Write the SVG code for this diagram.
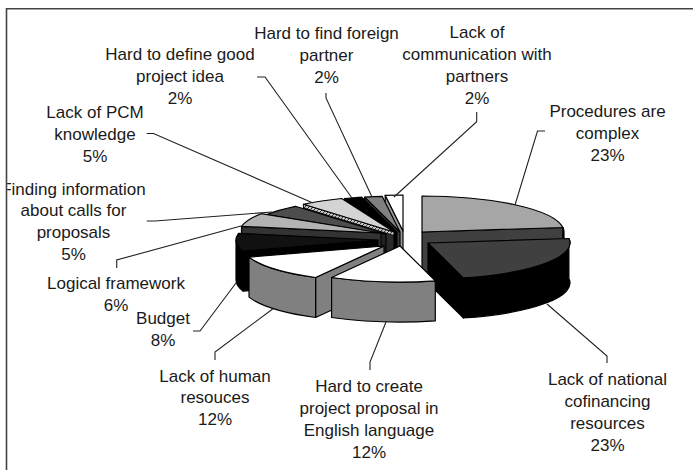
<svg xmlns="http://www.w3.org/2000/svg" width="693" height="470" viewBox="0 0 693 470">
<style>
.f{stroke:#000;stroke-width:1.2;stroke-linejoin:round}
.ld{fill:none;stroke:#222;stroke-width:1.1}
text{font-family:"Liberation Sans",Arial,sans-serif;font-size:17px;fill:#1a1a1a;text-anchor:middle}
</style>
<defs>
<clipPath id="clip"><rect x="7.2" y="9.6" width="686" height="461"/></clipPath>
<pattern id="hatch" width="4" height="4" patternUnits="userSpaceOnUse"><rect width="4" height="4" fill="#c8c8c8"/><path d="M0,4 L4,0" stroke="#333" stroke-width="1"/></pattern>
</defs>
<rect width="693" height="470" fill="#fff"/>
<path d="M6.5,470 L6.5,8.7 L693,8.7" fill="none" stroke="#444" stroke-width="1.6"/>
<g clip-path="url(#clip)">
<g id="slice-communication">
<path class="f" fill="#9a9a9a" d="M403,231 L385.2,195.3 L385.2,235.3 L403,271 Z"/>
<path class="f" fill="#fff" d="M403,231 L385.2,195.3 A142 36 0 0 1 403,195 Z"/>
</g>
<g id="slice-foreign">
<path class="f" fill="#404040" d="M400,232 L364.7,197.1 L364.7,237.1 L400,272 Z"/>
<path class="f" fill="#808080" d="M400,232 L364.7,197.1 A142 36 0 0 1 382.2,196.3 Z"/>
</g>
<g id="slice-define">
<path class="f" fill="#000" d="M397,232 L344.7,198.5 L344.7,238.5 L397,272 Z"/>
<path class="f" fill="#000" d="M397,232 L344.7,198.5 A142 36 0 0 1 361.7,197.1 Z"/>
</g>
<g id="slice-pcm">
<path class="f" fill="#2a2a2a" d="M394,232 L303.5,204.3 L303.5,244.3 L394,272 Z"/>
<path fill="url(#hatch)" stroke="#000" stroke-width="0.8" d="M303.5,204.3 L394,232 L394,235.5 L303.5,207.8 Z"/>
<path class="f" fill="#d4d4d4" d="M394,232 L303.5,204.3 A142 36 0 0 1 341.7,198.5 Z"/>
</g>
<g id="slice-procedures">
<path class="f" fill="#404040" d="M422,232 L562.9,227.5 L562.9,267.5 L422,272 Z"/>
<path class="f" fill="#404040" d="M562.9,227.5 A142 36 0 0 1 564,232 L564,272 A142 36 0 0 0 562.9,267.5 Z"/>
<path class="f" fill="#a6a6a6" d="M422,232 L422,196 A142 36 0 0 1 562.9,227.5 Z"/>
</g>
<g id="slice-finding">
<path class="f" fill="#202020" d="M386,234 L266.1,214.7 L266.1,254.7 L386,274 Z"/>
<path class="f" fill="#4d4d4d" d="M386,234 L266.1,214.7 A142 36 0 0 1 295.5,206.3 Z"/>
</g>
<g id="slice-logical">
<path class="f" fill="#333" d="M381,233 L241.5,226.3 L241.5,266.3 L381,273 Z"/>
<path class="f" fill="#b3b3b3" d="M381,233 L241.5,226.3 A142 36 0 0 1 261.1,213.7 Z"/>
</g>
<g id="slice-budget">
<path class="f" fill="#000" d="M378,240 L243,251.1 L243,291.1 L378,280 Z"/>
<path class="f" fill="#000" d="M243,251.1 A142 36 0 0 1 236,240 L236,280 A142 36 0 0 0 243,291.1 Z"/>
<path class="f" fill="#111" d="M378,240 L243,251.1 A142 36 0 0 1 238.5,233.3 Z"/>
</g>
<g id="slice-cofinancing">
<path class="f" fill="#000" d="M428,243 L463.3,277.9 L463.3,317.9 L428,283 Z"/>
<path class="f" fill="#000" d="M568.9,238.5 A142 36 0 0 1 463.3,277.9 L463.3,317.9 A142 36 0 0 0 568.9,278.5 Z"/>
<path class="f" fill="#404040" d="M428,243 L568.9,238.5 A142 36 0 0 1 463.3,277.9 Z"/>
</g>
<g id="slice-human">
<path class="f" fill="#808080" d="M384,246 L315.6,277.5 L315.6,317.5 L384,286 Z"/>
<path class="f" fill="#808080" d="M315.6,277.5 A142 36 0 0 1 249,257.1 L249,297.1 A142 36 0 0 0 315.6,317.5 Z"/>
<path class="f" fill="#fff" d="M384,246 L315.6,277.5 A142 36 0 0 1 249,257.1 Z"/>
</g>
<g id="slice-english">
<path class="f" fill="#808080" d="M435.3,280.9 A142 36 0 0 1 331.6,277.5 L331.6,317.5 A142 36 0 0 0 435.3,320.9 Z"/>
<path class="f" fill="#fff" d="M400,246 L435.3,280.9 A142 36 0 0 1 331.6,277.5 Z"/>
</g>
<g id="connectors">
<path class="ld" d="M257,77 L265,77 L352,198"/>
<path class="ld" d="M326,93 L326,98 L372,197"/>
<path class="ld" d="M476.7,112 L476.7,121.7 L394,197"/>
<path class="ld" d="M545,131 L537.5,131 L515,205"/>
<path class="ld" d="M146.7,133.5 L153.5,133.5 L313,203"/>
<path class="ld" d="M146.7,221 L155,221 L272,212"/>
<path class="ld" d="M116.7,268 L116.7,260 L241,226"/>
<path class="ld" d="M193,331 L200,331 L236,283"/>
<path class="ld" d="M215,360 L215,352 L274,308"/>
<path class="ld" d="M370,370 L370,362 L386,322"/>
<path class="ld" d="M607,363 L607,356 L547,304"/>
</g>
<g id="label-define"><text x="180" y="60">Hard to define good</text><text x="180" y="82">project idea</text><text x="180" y="104">2%</text></g>
<g id="label-foreign"><text x="326.5" y="38.5">Hard to find foreign</text><text x="326.5" y="60.5">partner</text><text x="326.5" y="82.5">2%</text></g>
<g id="label-communication"><text x="477" y="37.5">Lack of</text><text x="477" y="59.5">communication with</text><text x="477" y="81.5">partners</text><text x="477" y="103.5">2%</text></g>
<g id="label-procedures"><text x="607.5" y="116.5">Procedures are</text><text x="607.5" y="138.5">complex</text><text x="607.5" y="160.5">23%</text></g>
<g id="label-pcm"><text x="95" y="118">Lack of PCM</text><text x="95" y="140">knowledge</text><text x="95" y="162">5%</text></g>
<g id="label-finding"><text x="73.5" y="194.5">Finding information</text><text x="73.5" y="216">about calls for</text><text x="73.5" y="237.5">proposals</text><text x="73.5" y="259.5">5%</text></g>
<g id="label-logical"><text x="116" y="289">Logical framework</text><text x="116" y="310.5">6%</text></g>
<g id="label-budget"><text x="163" y="324">Budget</text><text x="163" y="345.5">8%</text></g>
<g id="label-human"><text x="215" y="381.5">Lack of human</text><text x="215" y="403">resouces</text><text x="215" y="424.5">12%</text></g>
<g id="label-english"><text x="369" y="392">Hard to create</text><text x="369" y="414">project proposal in</text><text x="369" y="436">English language</text><text x="369" y="458">12%</text></g>
<g id="label-cofinancing"><text x="607.5" y="385">Lack of national</text><text x="607.5" y="407">cofinancing</text><text x="607.5" y="429">resources</text><text x="607.5" y="451">23%</text></g>
</g>
</svg>
